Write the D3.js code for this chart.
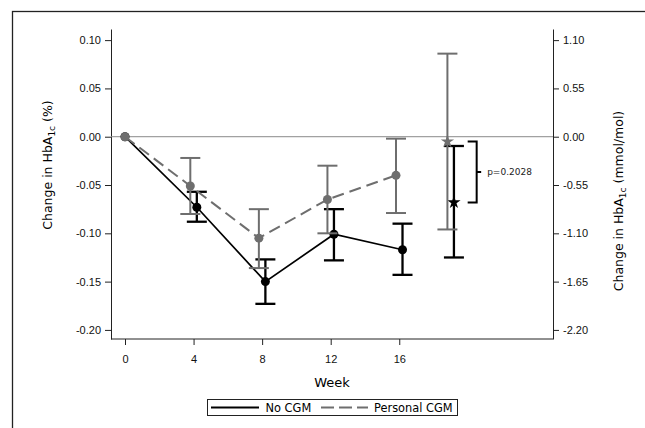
<!DOCTYPE html>
<html>
<head>
<meta charset="utf-8">
<script src="https://cdn.jsdelivr.net/npm/d3@7"></script>
<style>
  body { margin: 0; background: #fff; }
  svg { font-family: "DejaVu Sans", sans-serif; }
  .axis path, .axis line { stroke: #222; }
  .axis text { fill: #111; font-size: 11px; }
</style>
</head>
<body>
<svg id="chart" width="645" height="428"></svg>
<script>
// values
var weeks = [0, 4, 8, 12, 16];
var noCgmMean  = [0, -0.073, -0.150, -0.101, -0.117];
var noCgmLower = [0, -0.088, -0.173, -0.128, -0.143];
var noCgmUpper = [0, -0.057, -0.127, -0.075, -0.090];
var personalMean  = [0, -0.051, -0.105, -0.065, -0.040];
var personalLower = [0, -0.080, -0.136, -0.100, -0.079];
var personalUpper = [0, -0.022, -0.075, -0.030, -0.002];

// overall estimate (star), placed after week 16
var overallWeek = 19;
var noCgmOverall = {mean: -0.068, lower: -0.125, upper: -0.0096};
var personalOverall = {mean: -0.005, lower: -0.096, upper: 0.086};
var pValueLabel = "p=0.2028";

var xTicks = [0, 4, 8, 12, 16];
var yTicks = [0.10, 0.05, 0.00, -0.05, -0.10, -0.15, -0.20];
var yRightTicks = [1.10, 0.55, 0.00, -0.55, -1.10, -1.65, -2.20];
var mmolFactor = 11;

var gray = "#6e6e6e";
var offset = 0.19;

var svg = d3.select("#chart");

// outer frame (runs off the page on right/bottom)
svg.append("rect")
    .attr("x", 12.5).attr("y", 11.5)
    .attr("width", 700).attr("height", 500)
    .attr("fill", "none").attr("stroke", "#222").attr("stroke-width", 1.3);

var x = d3.scaleLinear().domain([-0.817, 24.97]).range([111, 553]);
var y = d3.scaleLinear().domain([-0.2094, 0.1115]).range([339, 29]);
var yR = d3.scaleLinear().domain(y.domain().map(function(d) { return d * mmolFactor; })).range(y.range());

svg.append("g")
    .attr("class", "axis")
    .attr("transform", "translate(0,339)")
    .call(d3.axisBottom(x).tickValues(xTicks).tickSize(6).tickPadding(10).tickSizeOuter(0))
    .select(".domain").attr("d", "M111,0H553");

svg.append("g")
    .attr("class", "axis")
    .attr("transform", "translate(111,0)")
    .call(d3.axisLeft(y).tickValues(yTicks).tickSize(6).tickPadding(4).tickSizeOuter(0)
          .tickFormat(function(d) { return d.toFixed(2); }));

svg.append("g")
    .attr("class", "axis")
    .attr("transform", "translate(553,0)")
    .call(d3.axisRight(yR).tickValues(yRightTicks).tickSize(6).tickPadding(4).tickSizeOuter(0)
          .tickFormat(function(d) { return d.toFixed(2); }));

// zero reference line
svg.append("line")
    .attr("x1", x.range()[0]).attr("x2", x.range()[1])
    .attr("y1", y(0)).attr("y2", y(0))
    .attr("stroke", "#8a8a8a").attr("stroke-width", 1);

// axis titles
svg.append("text")
    .attr("x", 332).attr("y", 386.5)
    .attr("text-anchor", "middle")
    .attr("font-size", 13)
    .text("Week");

function hbaLabel(tx, ty, unit) {
    var t = svg.append("text")
        .attr("transform", "translate(" + tx + "," + ty + ") rotate(-90)")
        .attr("text-anchor", "middle")
        .attr("font-size", 12.5);
    t.append("tspan").text("Change in HbA");
    t.append("tspan").attr("font-size", 9).attr("dy", 3).text("1c");
    t.append("tspan").attr("dy", -3).text(" " + unit);
}
hbaLabel(52, 165, "(%)");
hbaLabel(623, 201, "(mmol/mol)");

// series
function series(means, lowers, uppers, dx, color, dash, lineW, barW, overall) {
    var pts = weeks.map(function(w, i) {
        return {w: i === 0 ? w : w + dx, m: means[i], lo: lowers[i], hi: uppers[i]};
    });
    var g = svg.append("g");
    g.append("path")
        .datum(pts)
        .attr("fill", "none")
        .attr("stroke", color)
        .attr("stroke-width", lineW)
        .attr("stroke-dasharray", dash)
        .attr("d", d3.line().x(function(d) { return x(d.w); }).y(function(d) { return y(d.m); }));

    var bars = pts.slice(1).concat([{w: overallWeek + dx, m: overall.mean, lo: overall.lower, hi: overall.upper}]);
    var eb = g.selectAll(".eb").data(bars).enter().append("g")
        .attr("stroke", color).attr("stroke-width", barW).attr("fill", "none");
    eb.append("line")
        .attr("x1", function(d) { return x(d.w); }).attr("x2", function(d) { return x(d.w); })
        .attr("y1", function(d) { return y(d.lo); }).attr("y2", function(d) { return y(d.hi); });
    eb.append("line")
        .attr("x1", function(d) { return x(d.w) - 10; }).attr("x2", function(d) { return x(d.w) + 10; })
        .attr("y1", function(d) { return y(d.lo); }).attr("y2", function(d) { return y(d.lo); });
    eb.append("line")
        .attr("x1", function(d) { return x(d.w) - 10; }).attr("x2", function(d) { return x(d.w) + 10; })
        .attr("y1", function(d) { return y(d.hi); }).attr("y2", function(d) { return y(d.hi); });

    g.selectAll("circle").data(pts).enter().append("circle")
        .attr("cx", function(d) { return x(d.w); })
        .attr("cy", function(d) { return y(d.m); })
        .attr("r", 4.5)
        .attr("fill", color);

    g.append("path")
        .attr("d", d3.symbol().type(d3.symbolStar).size(55)())
        .attr("transform", "translate(" + x(overallWeek + dx) + "," + y(overall.mean) + ")")
        .attr("fill", color);
}

series(noCgmMean, noCgmLower, noCgmUpper, offset, "#000", null, 1.7, 2.3, noCgmOverall);
series(personalMean, personalLower, personalUpper, -offset, gray, "12,6", 2, 2, personalOverall);

// comparison bracket between the two overall estimates
var bx = x(overallWeek) + 26;
var by1 = y(personalOverall.mean), by2 = y(noCgmOverall.mean);
svg.append("path")
    .attr("d", "M" + (bx - 9) + "," + by1 + "H" + bx + "V" + by2 + "H" + (bx - 9) +
               "M" + bx + "," + ((by1 + by2) / 2) + "H" + (bx + 4.5))
    .attr("fill", "none").attr("stroke", "#000").attr("stroke-width", 2);
svg.append("text")
    .attr("x", bx + 10.5).attr("y", (by1 + by2) / 2)
    .attr("dy", "0.35em")
    .attr("font-size", 9)
    .attr("fill", "#222")
    .text(pValueLabel);

// legend
var lg = svg.append("g");
lg.append("rect")
    .attr("x", 207.5).attr("y", 399.5).attr("width", 250).attr("height", 16)
    .attr("fill", "#fff").attr("stroke", "#222").attr("stroke-width", 1);
lg.append("line").attr("x1", 211).attr("x2", 259).attr("y1", 407.5).attr("y2", 407.5)
    .attr("stroke", "#000").attr("stroke-width", 2);
lg.append("text").attr("x", 265.5).attr("y", 411.8).attr("font-size", 11.4).text("No CGM");
lg.append("line").attr("x1", 321).attr("x2", 368).attr("y1", 407.5).attr("y2", 407.5)
    .attr("stroke", gray).attr("stroke-width", 2).attr("stroke-dasharray", "13,5");
lg.append("text").attr("x", 374).attr("y", 411.8).attr("font-size", 11.4).text("Personal CGM");
</script>
</body>
</html>
